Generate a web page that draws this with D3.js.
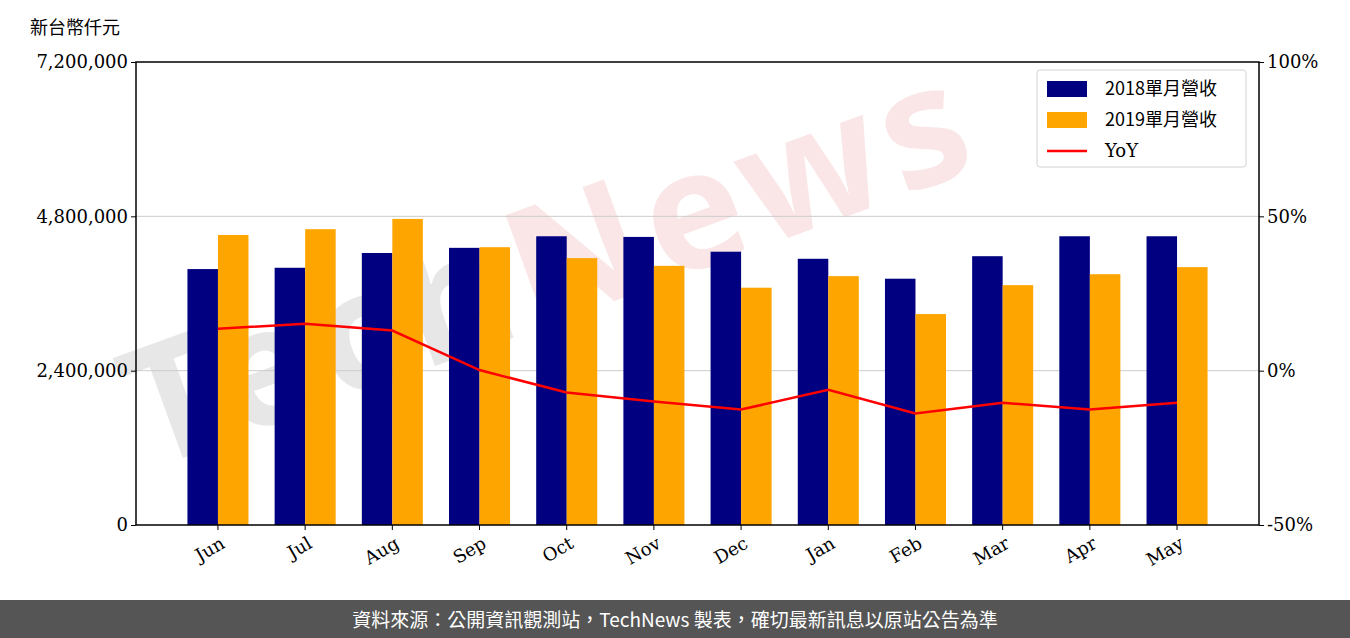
<html>
<head>
<meta charset="utf-8">
<script src="https://d3js.org/d3.v7.min.js"></script>
<style>body{margin:0;background:#fff}</style>
</head>
<body>
<div id="chart"></div>
<script>
const months = ["Jun","Jul","Aug","Sep","Oct","Nov","Dec","Jan","Feb","Mar","Apr","May"];
const rev2018 = [3980000,4000000,4230000,4310000,4490000,4480000,4250000,4140000,3830000,4180000,4490000,4490000];
const rev2019 = [4510000,4600000,4760000,4320000,4150000,4030000,3690000,3870000,3280000,3730000,3900000,4010000];
const yoy = [13.6,15.2,13.0,0.2,-7.1,-10.0,-12.6,-6.2,-13.9,-10.4,-12.6,-10.4];
const leftTicks = [0,2400000,4800000,7200000];
const rightTicks = [-50,0,50,100];

const W = 1350, H = 638;
const m = {left:136, right:1259, top:62, bottom:525};
const svg = d3.select("#chart").append("svg").attr("width",W).attr("height",H);
const serif = "DejaVu Serif";
const cjk = "Noto Sans CJK TC";

// watermark
const wm = svg.append("text").attr("transform","translate(150,470) rotate(-20)")
  .attr("font-family","Noto Sans").attr("font-weight","bold").attr("font-size",165)
  .attr("letter-spacing",8);
wm.append("tspan").attr("fill","#ccc").attr("opacity",0.45).text("Tech");
wm.append("tspan").attr("fill","#f2b8b8").attr("opacity",0.35).text("News");

const x = d3.scaleBand().domain(months).range([m.left,m.right]).paddingInner(0).paddingOuter(0.44);
const y = d3.scaleLinear().domain([0,7200000]).range([m.bottom,m.top]);
const y2 = d3.scaleLinear().domain([-50,100]).range([m.bottom,m.top]);
const bw = x.bandwidth()*0.35;

// grid
svg.append("g").selectAll("line").data(leftTicks.slice(1,3)).join("line")
  .attr("x1",m.left).attr("x2",m.right).attr("y1",d=>y(d)).attr("y2",d=>y(d))
  .attr("stroke","#ccc").attr("stroke-width",1);

svg.append("g").selectAll("rect").data(rev2018).join("rect")
  .attr("x",(d,i)=>x(months[i])+x.bandwidth()/2-bw).attr("width",bw)
  .attr("y",d=>y(d)).attr("height",d=>m.bottom-y(d)).attr("fill","#000080");
svg.append("g").selectAll("rect").data(rev2019).join("rect")
  .attr("x",(d,i)=>x(months[i])+x.bandwidth()/2).attr("width",bw)
  .attr("y",d=>y(d)).attr("height",d=>m.bottom-y(d)).attr("fill","#ffa500");

svg.append("path").datum(yoy)
  .attr("d",d3.line().x((d,i)=>x(months[i])+x.bandwidth()/2).y(d=>y2(d)))
  .attr("fill","none").attr("stroke","red").attr("stroke-width",2.5);

// frame
svg.append("rect").attr("x",m.left).attr("y",m.top).attr("width",m.right-m.left)
  .attr("height",m.bottom-m.top).attr("fill","none").attr("stroke","#000").attr("stroke-width",1.5);

const ax = svg.append("g").attr("transform",`translate(0,${m.bottom})`)
  .call(d3.axisBottom(x).tickSize(5).tickSizeOuter(0));
ax.select(".domain").remove();
ax.selectAll("text").attr("font-family",serif).attr("font-size",18).attr("fill","#000")
  .attr("text-anchor","end").attr("x",-4).attr("y",14).attr("dy","0.5em").attr("transform","rotate(-30)");

const al = svg.append("g").attr("transform",`translate(${m.left},0)`)
  .call(d3.axisLeft(y).tickValues(leftTicks).tickFormat(d3.format(",")).tickSize(5).tickSizeOuter(0));
al.select(".domain").remove();
al.selectAll("text").attr("font-family",serif).attr("font-size",18).attr("fill","#000");

const ar = svg.append("g").attr("transform",`translate(${m.right},0)`)
  .call(d3.axisRight(y2).tickValues(rightTicks).tickFormat(d=>d+"%").tickSize(5).tickSizeOuter(0));
ar.select(".domain").remove();
ar.selectAll("text").attr("font-family",serif).attr("font-size",18).attr("fill","#000");

svg.append("text").attr("x",30).attr("y",34).attr("font-family",cjk).attr("font-size",18).text("新台幣仟元");

// legend
const lg = svg.append("g").attr("transform","translate(1037,70)");
lg.append("rect").attr("width",209).attr("height",97).attr("fill","#fff").attr("opacity",0.85)
  .attr("stroke","#ccc").attr("rx",3);
const items = [{t:"2018單月營收",c:"#000080",k:"bar"},{t:"2019單月營收",c:"#ffa500",k:"bar"},{t:"YoY",c:"red",k:"line"}];
items.forEach((it,i)=>{
  const yy = 19+i*31;
  if(it.k==="bar") lg.append("rect").attr("x",10).attr("y",yy-8).attr("width",40).attr("height",16).attr("fill",it.c);
  else lg.append("line").attr("x1",10).attr("x2",50).attr("y1",yy).attr("y2",yy).attr("stroke",it.c).attr("stroke-width",2.5);
  lg.append("text").attr("x",68).attr("y",yy+6).attr("font-family",i<2?cjk:serif).attr("font-size",18).text(it.t);
});

// footer
svg.append("rect").attr("x",0).attr("y",600).attr("width",W).attr("height",38).attr("fill","#555");
svg.append("text").attr("x",W/2).attr("y",627).attr("text-anchor","middle").attr("fill","#fff")
  .attr("font-family",cjk).attr("font-size",19).text("資料來源：公開資訊觀測站，TechNews 製表，確切最新訊息以原站公告為準");
</script>
</body>
</html>
